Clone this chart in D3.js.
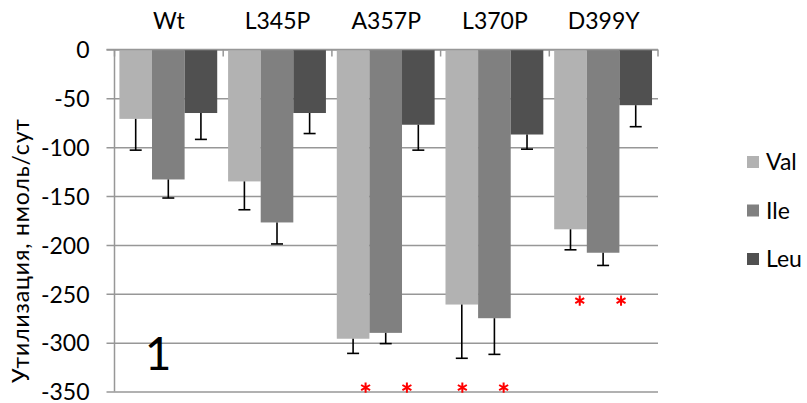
<!DOCTYPE html>
<html>
<head>
<meta charset="utf-8">
<script src="https://cdn.jsdelivr.net/npm/d3@7"></script>
<style>
  html, body { margin: 0; padding: 0; background: #fff; }
  svg { display: block; font-family: Lato, "Open Sans", sans-serif; }
</style>
</head>
<body>
<svg id="chart" width="807" height="403"></svg>
<script>
// Mutant forms and amino acids
const categories = ["Wt", "L345P", "A357P", "L370P", "D399Y"];
const seriesNames = ["Val", "Ile", "Leu"];

// Utilization, nmol/day (negative = consumed)
const valValues = [-71, -135, -296, -261, -184];
const ileValues = [-133, -177, -290, -275, -208];
const leuValues = [-65, -65, -77, -87, -57];

// Standard deviation (drawn downward only)
const valErrors = [32, 29, 15, 55, 21];
const ileErrors = [19, 22, 11, 37, 13];
const leuErrors = [27, 21, 26, 15, 22];

// Y axis ticks
const yTicks = [0, -50, -100, -150, -200, -250, -300, -350];

// Significance markers: category, position inside the group (0..1), value
const starCats = ["A357P", "A357P", "L370P", "L370P", "D399Y", "D399Y"];
const starPos = [0.31, 0.69, 0.20, 0.58, 0.28, 0.66];
const starVals = [-346, -346, -346, -346, -257, -257];

const yTitle = "Утилизация, нмоль/сут";
const panelLabel = "1";

const colors = ["#b2b2b2", "#808080", "#505050"];
const gridColor = "#979797";

const valuesBySeries = [valValues, ileValues, leuValues];
const errorsBySeries = [valErrors, ileErrors, leuErrors];

const rows = [];
categories.forEach((c, i) => {
  seriesNames.forEach((s, j) => {
    rows.push({ cat: c, series: s, value: valuesBySeries[j][i], err: errorsBySeries[j][i], color: colors[j] });
  });
});

const svg = d3.select("#chart");
const plotLeft = 114.5, plotRight = 658, plotTop = 49.5, plotBottom = 391.5;

const x0 = d3.scaleBand().domain(categories).range([plotLeft, plotRight]).padding(0);
const x1 = d3.scaleBand().domain(seriesNames)
  .range([x0.bandwidth() * 0.045, x0.bandwidth() * 0.945]).padding(0);
const y = d3.scaleLinear().domain([0, -350]).range([plotTop, plotBottom]);

// Horizontal gridlines with outward ticks
const yAxis = d3.axisLeft(y).tickValues(yTicks).tickSize(8).tickFormat(d => d);
const gy = svg.append("g").attr("transform", `translate(${plotLeft},0)`).call(yAxis);
gy.select(".domain").remove();
gy.selectAll(".tick line").attr("stroke", gridColor).attr("stroke-width", 1.5)
  .attr("x1", -8).attr("x2", plotRight - plotLeft);
gy.selectAll(".tick text")
  .attr("x", -25).attr("dy", "0.36em")
  .attr("fill", "#000").style("font-size", "23px").style("font-family", "Lato, sans-serif");

// Bars
svg.append("g").selectAll("rect").data(rows).join("rect")
  .attr("x", d => x0(d.cat) + x1(d.series))
  .attr("width", x1.bandwidth())
  .attr("y", y(0))
  .attr("height", d => y(d.value) - y(0))
  .attr("fill", d => d.color);

// Error bars (minus direction)
const eb = svg.append("g").attr("stroke", "#000").attr("stroke-width", 1.6);
rows.forEach(d => {
  const cx = x0(d.cat) + x1(d.series) + x1.bandwidth() / 2;
  eb.append("line").attr("x1", cx).attr("x2", cx)
    .attr("y1", y(d.value)).attr("y2", y(d.value - d.err));
  eb.append("line").attr("x1", cx - 6).attr("x2", cx + 6)
    .attr("y1", y(d.value - d.err)).attr("y2", y(d.value - d.err));
});

// Category axis along the zero line, ticks pointing into the plot
const xAxis = d3.axisTop(x0).tickSize(0).tickPadding(21);
const gx = svg.append("g").attr("transform", `translate(0,${y(0)})`).call(xAxis);
gx.select(".domain").remove();
gx.selectAll(".tick text").attr("fill", "#000")
  .style("font-size", "23px").style("font-family", "Lato, sans-serif");

svg.append("line").attr("x1", plotLeft - 8).attr("x2", plotRight)
  .attr("y1", y(0)).attr("y2", y(0))
  .attr("stroke", gridColor).attr("stroke-width", 1.5);
const bounds = categories.map(c => x0(c)).concat([plotRight]);
svg.append("g").selectAll("line").data(bounds).join("line")
  .attr("x1", d => d).attr("x2", d => d)
  .attr("y1", y(0)).attr("y2", y(0) + 7)
  .attr("stroke", gridColor).attr("stroke-width", 1.5);
// Value axis line
svg.append("line").attr("x1", plotLeft).attr("x2", plotLeft)
  .attr("y1", y(0)).attr("y2", y(-350))
  .attr("stroke", gridColor).attr("stroke-width", 1.5);

// Significance asterisks
const star = d3.symbol().type(d3.symbolAsterisk).size(75);
svg.append("g").selectAll("path").data(starCats).join("path")
  .attr("transform", (c, i) => `translate(${x0(c) + starPos[i] * x0.bandwidth()},${y(starVals[i])})`)
  .attr("d", star)
  .attr("fill", "none")
  .attr("stroke", "#ff0000")
  .attr("stroke-width", 2);

// Panel number
svg.append("text")
  .attr("x", x0("Wt") + x0.bandwidth() * 0.4)
  .attr("y", y(-311))
  .attr("text-anchor", "middle")
  .attr("dy", "0.36em")
  .style("font-size", "46px")
  .style("font-family", "Lato, sans-serif")
  .attr("fill", "#000")
  .text(panelLabel);

// Y axis title
svg.append("text")
  .attr("transform", `translate(29,251) rotate(-90)`)
  .attr("text-anchor", "middle")
  .attr("textLength", 264)
  .attr("lengthAdjust", "spacing")
  .style("font-size", "23px")
  .style("font-family", "Lato, sans-serif")
  .attr("fill", "#000")
  .text(yTitle);

// Legend
const legend = svg.append("g").attr("transform", "translate(747,0)");
const lg = legend.selectAll("g").data(seriesNames).join("g")
  .attr("transform", (d, i) => `translate(0,${162 + i * 48.5})`);
lg.append("rect").attr("x", 0).attr("y", -6).attr("width", 12).attr("height", 12)
  .attr("fill", (d, i) => colors[i]);
lg.append("text").attr("x", 19).attr("dy", "0.36em")
  .style("font-size", "23px").style("font-family", "Lato, sans-serif")
  .attr("fill", "#000").text(d => d);
</script>
</body>
</html>
